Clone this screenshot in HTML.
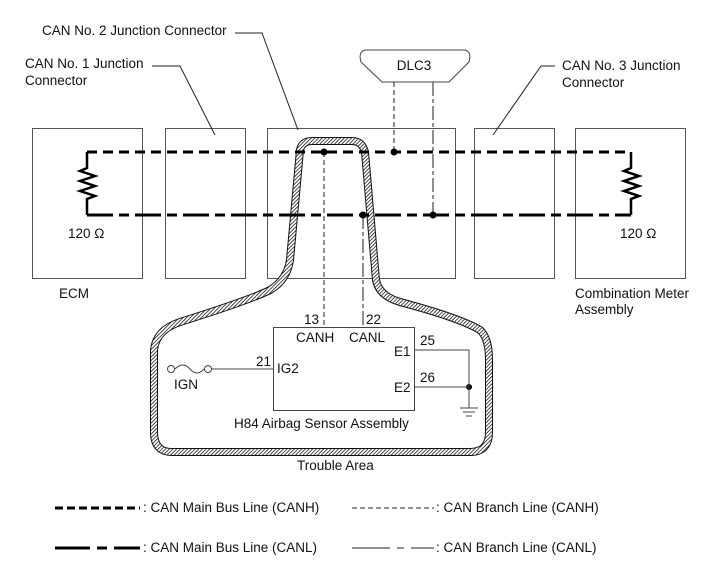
<!DOCTYPE html>
<html><head><meta charset="utf-8"><style>
html,body{margin:0;padding:0;background:#fff;}
svg{display:block;}
text{font-family:"Liberation Sans",Arial,sans-serif;font-size:13.5px;fill:#111;}
</style></head><body>
<svg width="713" height="581" viewBox="0 0 713 581" xmlns="http://www.w3.org/2000/svg">
<defs>
<pattern id="h" patternUnits="userSpaceOnUse" width="2.6" height="2.6" patternTransform="rotate(45)">
<rect width="2.6" height="2.6" fill="#fff"/><line x1="0" y1="0" x2="0" y2="2.6" stroke="#111" stroke-width="1.5"/>
</pattern>
</defs>
<g fill="none" stroke="#555" stroke-width="1">
<rect x="32.5" y="128.5" width="110" height="150"/>
<rect x="165.5" y="128.5" width="80" height="150"/>
<rect x="267.5" y="128.5" width="188" height="150"/>
<rect x="474.5" y="128.5" width="80" height="150"/>
<rect x="575.5" y="128.5" width="110" height="150"/>
</g>
<g fill="none" stroke="#222" stroke-width="1">
<polyline points="235,33 262,33 298,130"/>
<polyline points="152,66 180,66 215,135"/>
<polyline points="555,66 541,66 493,135"/>
</g>
<path d="M300,150 Q302,141 312,141 L352,141 Q362,141 365,152 L376,280 Q379,296 400,302 Q460,318 480,330 Q489,338 489,360 L489,432 Q489,452 470,452 L172,452 Q154,452 154,432 L154,350 Q156,330 180,322 Q250,300 270,290 Q287,280 290,260 Z" fill="none" stroke="#111" stroke-width="8"/>
<path d="M300,150 Q302,141 312,141 L352,141 Q362,141 365,152 L376,280 Q379,296 400,302 Q460,318 480,330 Q489,338 489,360 L489,432 Q489,452 470,452 L172,452 Q154,452 154,432 L154,350 Q156,330 180,322 Q250,300 270,290 Q287,280 290,260 Z" fill="none" stroke="url(#h)" stroke-width="6"/>
<line x1="87" y1="152" x2="631" y2="152" stroke="#000" stroke-width="3" stroke-dasharray="10,6"/>
<line x1="87" y1="215" x2="631" y2="215" stroke="#000" stroke-width="3" stroke-dasharray="26,6,10,6"/>
<g fill="none" stroke="#000" stroke-width="2.5">
<polyline points="87,152 87,168 80,171 95,176 80,181 95,186 80,191 95,196 87,199 87,215"/>
<polyline points="631,152 631,168 624,171 639,176 624,181 639,186 624,191 639,196 631,199 631,215"/>
</g>
<line x1="324" y1="152" x2="324" y2="327" stroke="#222" stroke-width="1" stroke-dasharray="5,3"/>
<line x1="394" y1="82" x2="394" y2="152" stroke="#222" stroke-width="1" stroke-dasharray="5,3"/>
<line x1="363" y1="215" x2="363" y2="327" stroke="#222" stroke-width="1" stroke-dasharray="14,3,4,3"/>
<line x1="433" y1="82" x2="433" y2="215" stroke="#222" stroke-width="1" stroke-dasharray="14,3,4,3"/>
<g fill="#000"><circle cx="324" cy="152" r="3.5"/><circle cx="394" cy="152" r="3.5"/><circle cx="363" cy="215" r="3.5"/><circle cx="433" cy="215" r="3.5"/><circle cx="469" cy="387" r="3"/></g>
<path d="M365,50 L465,50 Q472,52 469,62 L449,82 L382,82 L361,62 Q358,52 365,50 Z" fill="#fff" stroke="#444" stroke-width="1"/>
<text x="414" y="70" text-anchor="middle">DLC3</text>
<rect x="273.5" y="327.5" width="141" height="83" fill="#fff" stroke="#444" stroke-width="1"/>
<g fill="none" stroke="#444" stroke-width="1">
<polyline points="414,350 469,350 469,408"/>
<line x1="414" y1="387" x2="469" y2="387"/>
<line x1="460" y1="408" x2="478" y2="408"/><line x1="463" y1="412" x2="475" y2="412"/><line x1="466" y1="416" x2="472" y2="416"/>
<line x1="212" y1="369" x2="273" y2="369"/>
<circle cx="171" cy="369" r="3.5"/><circle cx="208" cy="369" r="3.5"/>
<path d="M175,369 Q183,361 190,369 Q197,377 204,369"/>
</g>
<text x="304" y="324">13</text><text x="366" y="324">22</text>
<text x="296" y="342">CANH</text><text x="349" y="342">CANL</text>
<text x="420" y="345">25</text><text x="394" y="356">E1</text>
<text x="420" y="382">26</text><text x="394" y="392">E2</text>
<text x="256" y="366">21</text><text x="277" y="373">IG2</text>
<text x="174" y="389">IGN</text>
<text x="234" y="428">H84  Airbag Sensor Assembly</text>
<text x="297" y="470">Trouble Area</text>
<text x="42" y="35">CAN No. 2 Junction Connector</text>
<text x="25" y="68">CAN No. 1 Junction</text><text x="25" y="85">Connector</text>
<text x="562" y="70">CAN No. 3 Junction</text><text x="562" y="87">Connector</text>
<text x="68" y="238">120 Ω</text><text x="620" y="238">120 Ω</text>
<text x="59" y="298">ECM</text>
<text x="575" y="298">Combination Meter</text><text x="575" y="314">Assembly</text>
<line x1="55" y1="508" x2="140" y2="508" stroke="#000" stroke-width="3" stroke-dasharray="8,4"/>
<text x="143" y="512">: CAN Main Bus Line (CANH)</text>
<line x1="352" y1="508" x2="434" y2="508" stroke="#222" stroke-width="1" stroke-dasharray="5,3"/>
<text x="436" y="512">: CAN Branch Line (CANH)</text>
<path d="M55,548 H90 M97,548 H107 M114,548 H140" stroke="#000" stroke-width="3"/>
<text x="143" y="552">: CAN Main Bus Line (CANL)</text>
<path d="M352,548 H390 M397,548 H404 M411,548 H434" stroke="#222" stroke-width="1"/>
<text x="436" y="552">: CAN Branch Line (CANL)</text>
</svg>
</body></html>
